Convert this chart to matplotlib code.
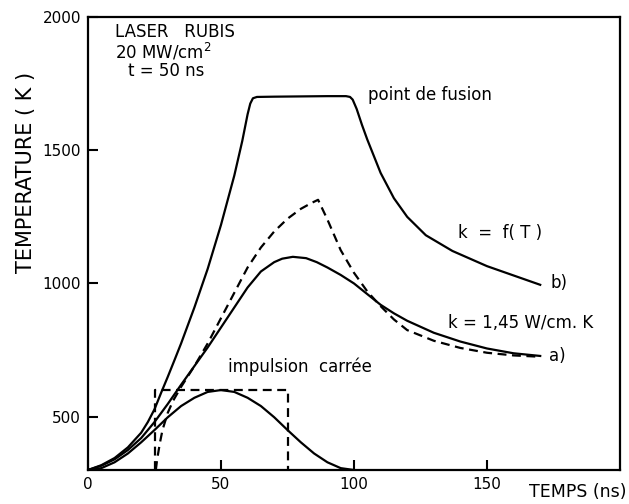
import matplotlib.pyplot as plt

# courbe b) : k = f(T), avec palier au point de fusion
t_b = [0, 5, 10, 15, 20, 22.5, 25, 27.5, 30, 32.5, 35, 40, 45, 50, 55, 58, 60, 61, 62, 63.5, 70, 80, 90,
       97, 98.5, 99.5, 101, 103, 105, 108, 110, 115, 120, 127, 137, 150, 160, 170]
T_b = [300, 318, 345, 385, 440, 480, 528, 590, 650, 712, 775, 910, 1055, 1220, 1405, 1535, 1635, 1675,
       1695, 1700, 1701, 1702, 1703, 1703, 1700, 1690, 1655, 1595, 1540, 1465, 1415, 1320, 1250, 1181,
       1122, 1065, 1030, 995]

# courbe a) : k = 1,45 W/cm.K (trait plein)
t_a = [0, 5, 10, 15, 20, 25, 30, 35, 40, 45, 50, 55, 60, 65, 70, 73, 77, 82, 86, 90, 95, 100, 105, 110,
       115, 120, 130, 140, 150, 160, 170]
T_a = [300, 316, 340, 375, 420, 480, 548, 620, 690, 760, 835, 910, 985, 1045, 1080, 1093, 1100, 1095,
       1080, 1060, 1032, 1000, 960, 920, 888, 860, 815, 782, 756, 738, 728]

# courbe en tirets
t_d = [25.5, 26, 27, 28, 30, 32, 35, 40, 45, 50, 55, 60, 65, 70, 75, 80, 84, 86.5, 90, 95, 100, 105,
       110, 115, 120, 130, 140, 150, 160, 170]
T_d = [300, 340, 400, 450, 515, 560, 612, 690, 775, 870, 965, 1060, 1135, 1195, 1243, 1280, 1302, 1314,
       1240, 1125, 1040, 970, 915, 865, 825, 785, 758, 740, 730, 725]

# impulsion laser (forme reelle)
t_p = [0, 5, 10, 15, 20, 25, 30, 35, 40, 45, 50, 55, 60, 65, 70, 75, 80, 85, 90, 95, 100]
T_p = [300, 307, 329, 362, 404, 450, 498, 540, 571, 593, 600, 593, 571, 540, 498, 450, 404, 362, 329,
       307, 300]

# impulsion carree
t_sq = [25, 25, 75, 75]
T_sq = [300, 600, 600, 300]

fig = plt.figure(figsize=(6.29, 5.04), dpi=100)
ax = fig.add_axes([88 / 629, 34 / 504, 532 / 629, 453 / 504])

lw = 1.6
ax.plot(t_b, T_b, color='black', lw=lw, solid_joinstyle='round')
ax.plot(t_a, T_a, color='black', lw=lw, solid_joinstyle='round')
ax.plot(t_d, T_d, color='black', lw=lw, linestyle=(0, (4, 2.5)))
ax.plot(t_p, T_p, color='black', lw=lw, solid_joinstyle='round')
ax.plot(t_sq, T_sq, color='black', lw=lw, linestyle=(0, (4, 2.5)))

ax.set_xlim(0, 200)
ax.set_ylim(300, 2000)
ax.set_xticks([0, 50, 100, 150])
ax.set_yticks([500, 1000, 1500, 2000])
ax.tick_params(direction='in', length=7, width=1.5, labelsize=11, pad=5)
for s in ax.spines.values():
    s.set_linewidth(1.6)

# textes
fs = 12
def px(x, y):
    return x / 629, 1 - y / 504

fig.text(*px(115, 32), 'LASER   RUBIS', fontsize=fs, va='center', ha='left')
fig.text(*px(115, 52), '20 MW/cm$^2$', fontsize=fs, va='center', ha='left')
fig.text(*px(128, 71), 't = 50 ns', fontsize=fs, va='center', ha='left')
fig.text(*px(368, 95), 'point de fusion', fontsize=fs, va='center', ha='left')
fig.text(*px(458, 233), 'k  =  f( T )', fontsize=fs, va='center', ha='left')
fig.text(*px(551, 283), 'b)', fontsize=fs, va='center', ha='left')
fig.text(*px(448, 323), 'k = 1,45 W/cm. K', fontsize=fs, va='center', ha='left')
fig.text(*px(549, 356), 'a)', fontsize=fs, va='center', ha='left')
fig.text(*px(228, 367), 'impulsion  carrée', fontsize=fs, va='center', ha='left')
fig.text(*px(26, 172), 'TEMPERATURE ( K )', fontsize=15, rotation=90, va='center', ha='center')
fig.text(*px(578, 492), 'TEMPS (ns)', fontsize=12.5, va='center', ha='center')

fig.savefig('out.png', dpi=100)
